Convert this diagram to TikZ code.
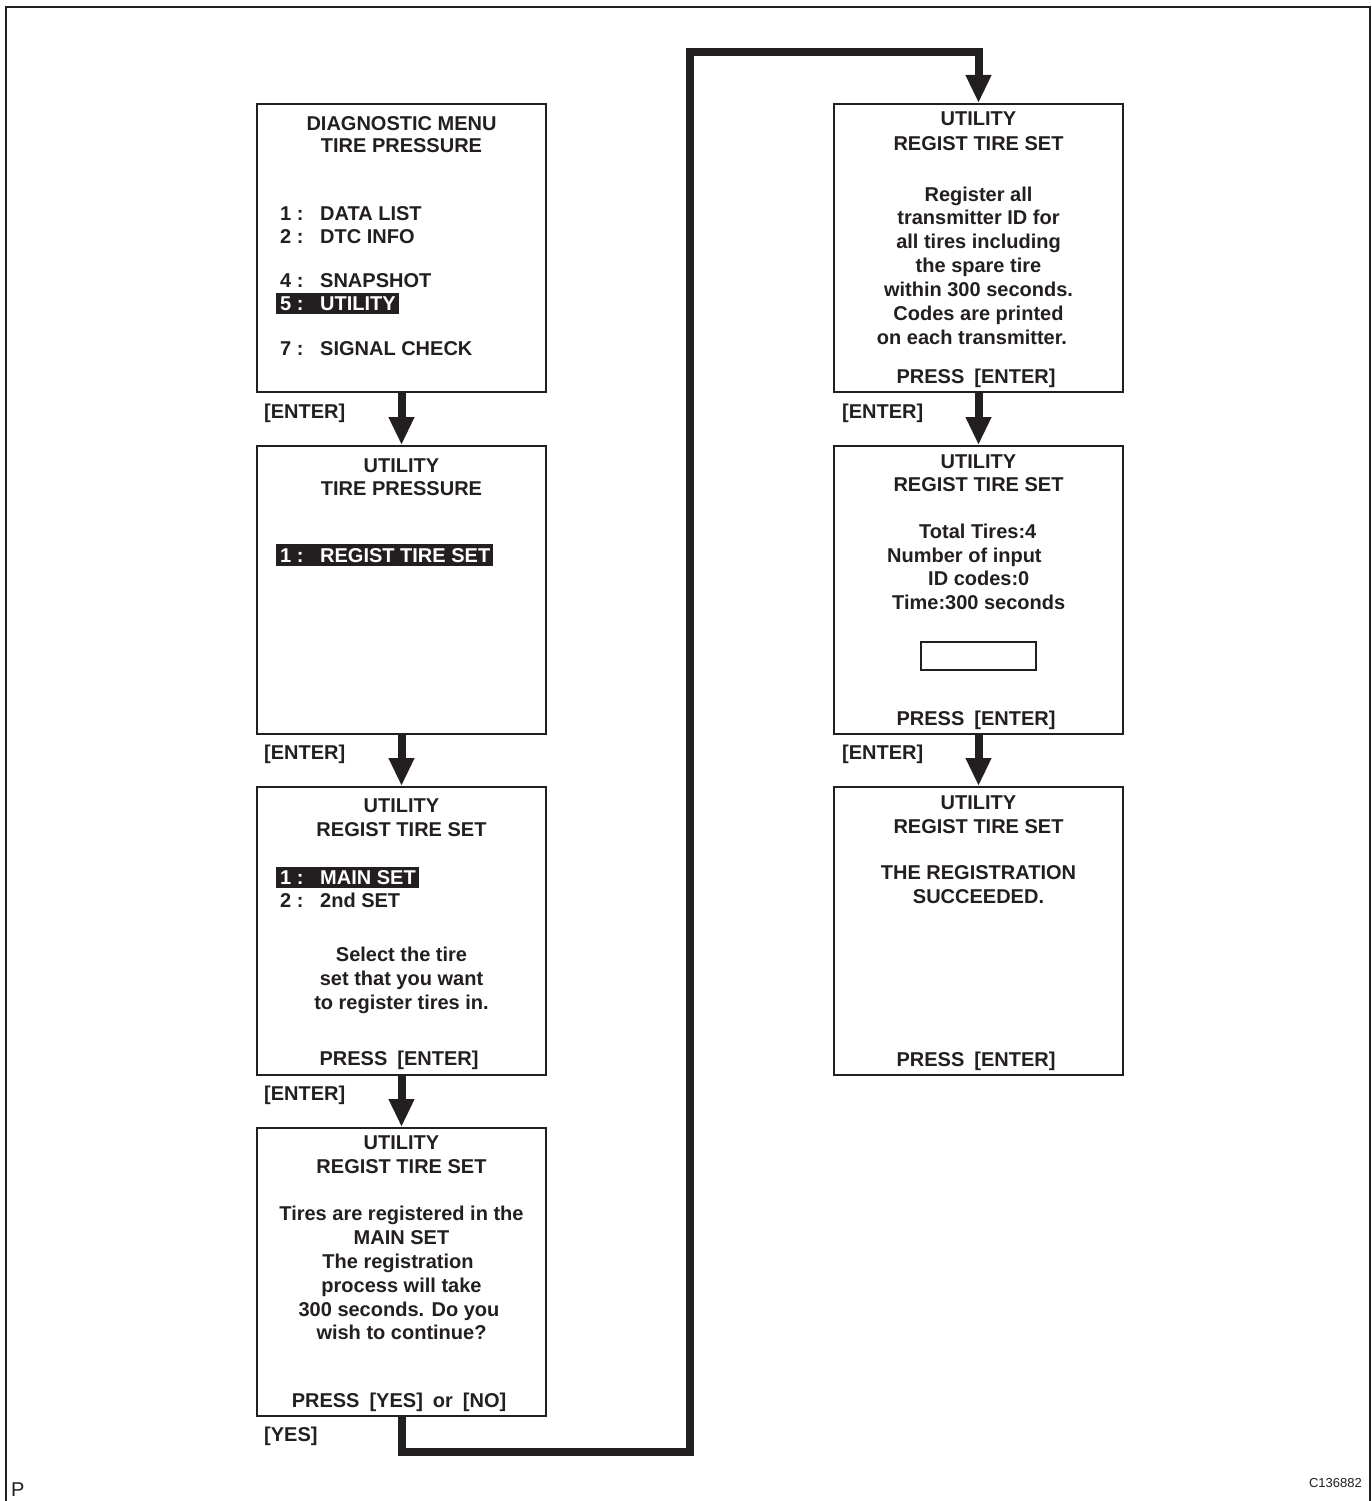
\documentclass[tikz,border=0pt]{standalone}
\usepackage{fontspec}
\setmainfont{Liberation Sans}
\usetikzlibrary{arrows.meta}
\definecolor{ink}{HTML}{231F20}
\begin{document}
\begin{tikzpicture}[x=1pt,y=-1pt,
  box/.style={draw=ink, line width=2pt, minimum width=289pt, minimum height=288pt, inner sep=0pt},
  t/.style={anchor=base, inner sep=0pt, font=\fontsize{20}{24}\selectfont\bfseries, text=ink},
  tl/.style={t, anchor=base west},
  hl/.style={fill=ink, draw=none, inner sep=0pt, anchor=north west},
  wt/.style={tl, text=white},
  arr/.style={draw=ink, line width=8pt, line join=miter, -{Triangle[width=24pt,length=28pt]}},
]
\useasboundingbox (0,0) rectangle (1372,1501);
\fill[white] (0,0) rectangle (1372,1501);
% frame
\draw[ink, line width=2pt] (6,1501) -- (6,7) -- (1370,7) -- (1370,1501);
\node[anchor=base west, inner sep=0pt, font=\fontsize{20}{24}\selectfont, text=ink] (pmark) at (11,1496) {P};
\node[anchor=base east, inner sep=0pt, font=\fontsize{13}{15}\selectfont, text=ink] (fig) at (1362,1487) {C136882};

% boxes
\node[box] (b1) at (401.5,248) {};
\node[box] (b2) at (401.5,590) {};
\node[box] (b3) at (401.5,931) {};
\node[box] (b4) at (401.5,1272) {};
\node[box] (b5) at (978.5,248) {};
\node[box] (b6) at (978.5,590) {};
\node[box] (b7) at (978.5,931) {};

% box 1
\node[t] (b1a) at (401.5,131) {DIAGNOSTIC MENU};
\node[t] (b1b) at (401.5,153) {TIRE PRESSURE};
\node[tl] (b1n1) at (280,220) {1 :};  \node[tl] (b1i1) at (320,220) {DATA LIST};
\node[tl] (b1n2) at (280,243) {2 :};  \node[tl] (b1i2) at (320,243) {DTC INFO};
\node[tl] (b1n4) at (280,287) {4 :};  \node[tl] (b1i4) at (320,287) {SNAPSHOT};
\node[hl, minimum width=123pt, minimum height=21pt] (h1) at (276,293) {};
\node[wt] (b1n5) at (280,310) {5 :};  \node[wt] (b1i5) at (320,310) {UTILITY};
\node[tl] (b1n7) at (280,355) {7 :};  \node[tl] (b1i7) at (320,355) {SIGNAL CHECK};

% box 2
\node[t] (b2a) at (401.5,472) {UTILITY};
\node[t] (b2b) at (401.5,495) {TIRE PRESSURE};
\node[hl, minimum width=217pt, minimum height=22pt] (h2) at (276,544) {};
\node[wt] (b2n1) at (280,562) {1 :};  \node[wt] (b2i1) at (320,562) {REGIST TIRE SET};

% box 3
\node[t] (b3a) at (401.5,812) {UTILITY};
\node[t] (b3b) at (401.5,836) {REGIST TIRE SET};
\node[hl, minimum width=143pt, minimum height=21pt] (h3) at (276,867) {};
\node[wt] (b3n1) at (280,884) {1 :};  \node[wt] (b3i1) at (320,884) {MAIN SET};
\node[tl] (b3n2) at (280,907) {2 :};  \node[tl] (b3i2) at (320,907) {2nd SET};
\node[t] (b3c) at (401.5,961) {Select the tire};
\node[t] (b3d) at (401.5,985) {set that you want};
\node[t] (b3e) at (401.5,1009) {to register tires in.};
\node[t] (b3f) at (399,1065) {PRESS\hspace{0.5em}[ENTER]};

% box 4
\node[t] (b4a) at (401.5,1149) {UTILITY};
\node[t] (b4b) at (401.5,1173) {REGIST TIRE SET};
\node[t] (b4c) at (401.5,1220) {Tires are registered in the};
\node[t] (b4d) at (401.5,1244) {MAIN SET};
\node[t] (b4e) at (398,1268) {The registration};
\node[t] (b4f) at (401.5,1292) {process will take};
\node[t] (b4g) at (399,1316) {300 seconds. Do you};
\node[t] (b4h) at (401.5,1339) {wish to continue?};
\node[t] (b4i) at (399,1407) {PRESS\hspace{0.5em}[YES]\hspace{0.5em}or\hspace{0.5em}[NO]};

% box 5
\node[t] (b5a) at (978.5,126) {UTILITY};
\node[t] (b5b) at (978.5,150) {REGIST TIRE SET};
\node[t] (b5c) at (978.5,201) {Register all};
\node[t] (b5d) at (978.5,224) {transmitter ID for};
\node[t] (b5e) at (978.5,248) {all tires including};
\node[t] (b5f) at (978.5,272) {the spare tire};
\node[t] (b5g) at (978.5,296) {within 300 seconds.};
\node[t] (b5h) at (978.5,320) {Codes are printed};
\node[t] (b5i) at (972,344) {on each transmitter.};
\node[t] (b5j) at (976,383) {PRESS\hspace{0.5em}[ENTER]};

% box 6
\node[t] (b6a) at (978.5,468) {UTILITY};
\node[t] (b6b) at (978.5,491) {REGIST TIRE SET};
\node[tl] (b6c) at (919,538) {Total Tires:4};
\node[tl] (b6d) at (887,562) {Number of input};
\node[tl] (b6e) at (928,585) {ID codes:0};
\node[tl] (b6f) at (892,609) {Time:300 seconds};
\node[draw=ink, line width=1.5pt, minimum width=115pt, minimum height=28pt, inner sep=0pt] (inbox) at (978.5,656) {};
\node[t] (b6g) at (976,725) {PRESS\hspace{0.5em}[ENTER]};

% box 7
\node[t] (b7a) at (978.5,809) {UTILITY};
\node[t] (b7b) at (978.5,833) {REGIST TIRE SET};
\node[t] (b7c) at (978.5,879) {THE REGISTRATION};
\node[t] (b7d) at (978.5,903) {SUCCEEDED.};
\node[t] (b7e) at (976,1066) {PRESS\hspace{0.5em}[ENTER]};

% key labels
\node[tl] (k1) at (264,418) {[ENTER]};
\node[tl] (k2) at (264,759) {[ENTER]};
\node[tl] (k3) at (264,1100) {[ENTER]};
\node[tl] (k4) at (264,1441) {[YES]};
\node[tl] (k5) at (842,418) {[ENTER]};
\node[tl] (k6) at (842,759) {[ENTER]};

% connectors
\draw[arr] (b1.south) -- (b2.north);
\draw[arr] (b2.south) -- (b3.north);
\draw[arr] (b3.south) -- (b4.north);
\draw[arr] (b5.south) -- (b6.north);
\draw[arr] (b6.south) -- (b7.north);
\coordinate (c1) at (401.5,1452);
\coordinate (c2) at (690,1452);
\coordinate (c3) at (690,52);
\coordinate (c4) at (978.5,52);
\draw[arr] (b4.south) -- (c1) -- (c2) -- (c3) -- (c4) -- (b5.north);
\end{tikzpicture}
\end{document}
